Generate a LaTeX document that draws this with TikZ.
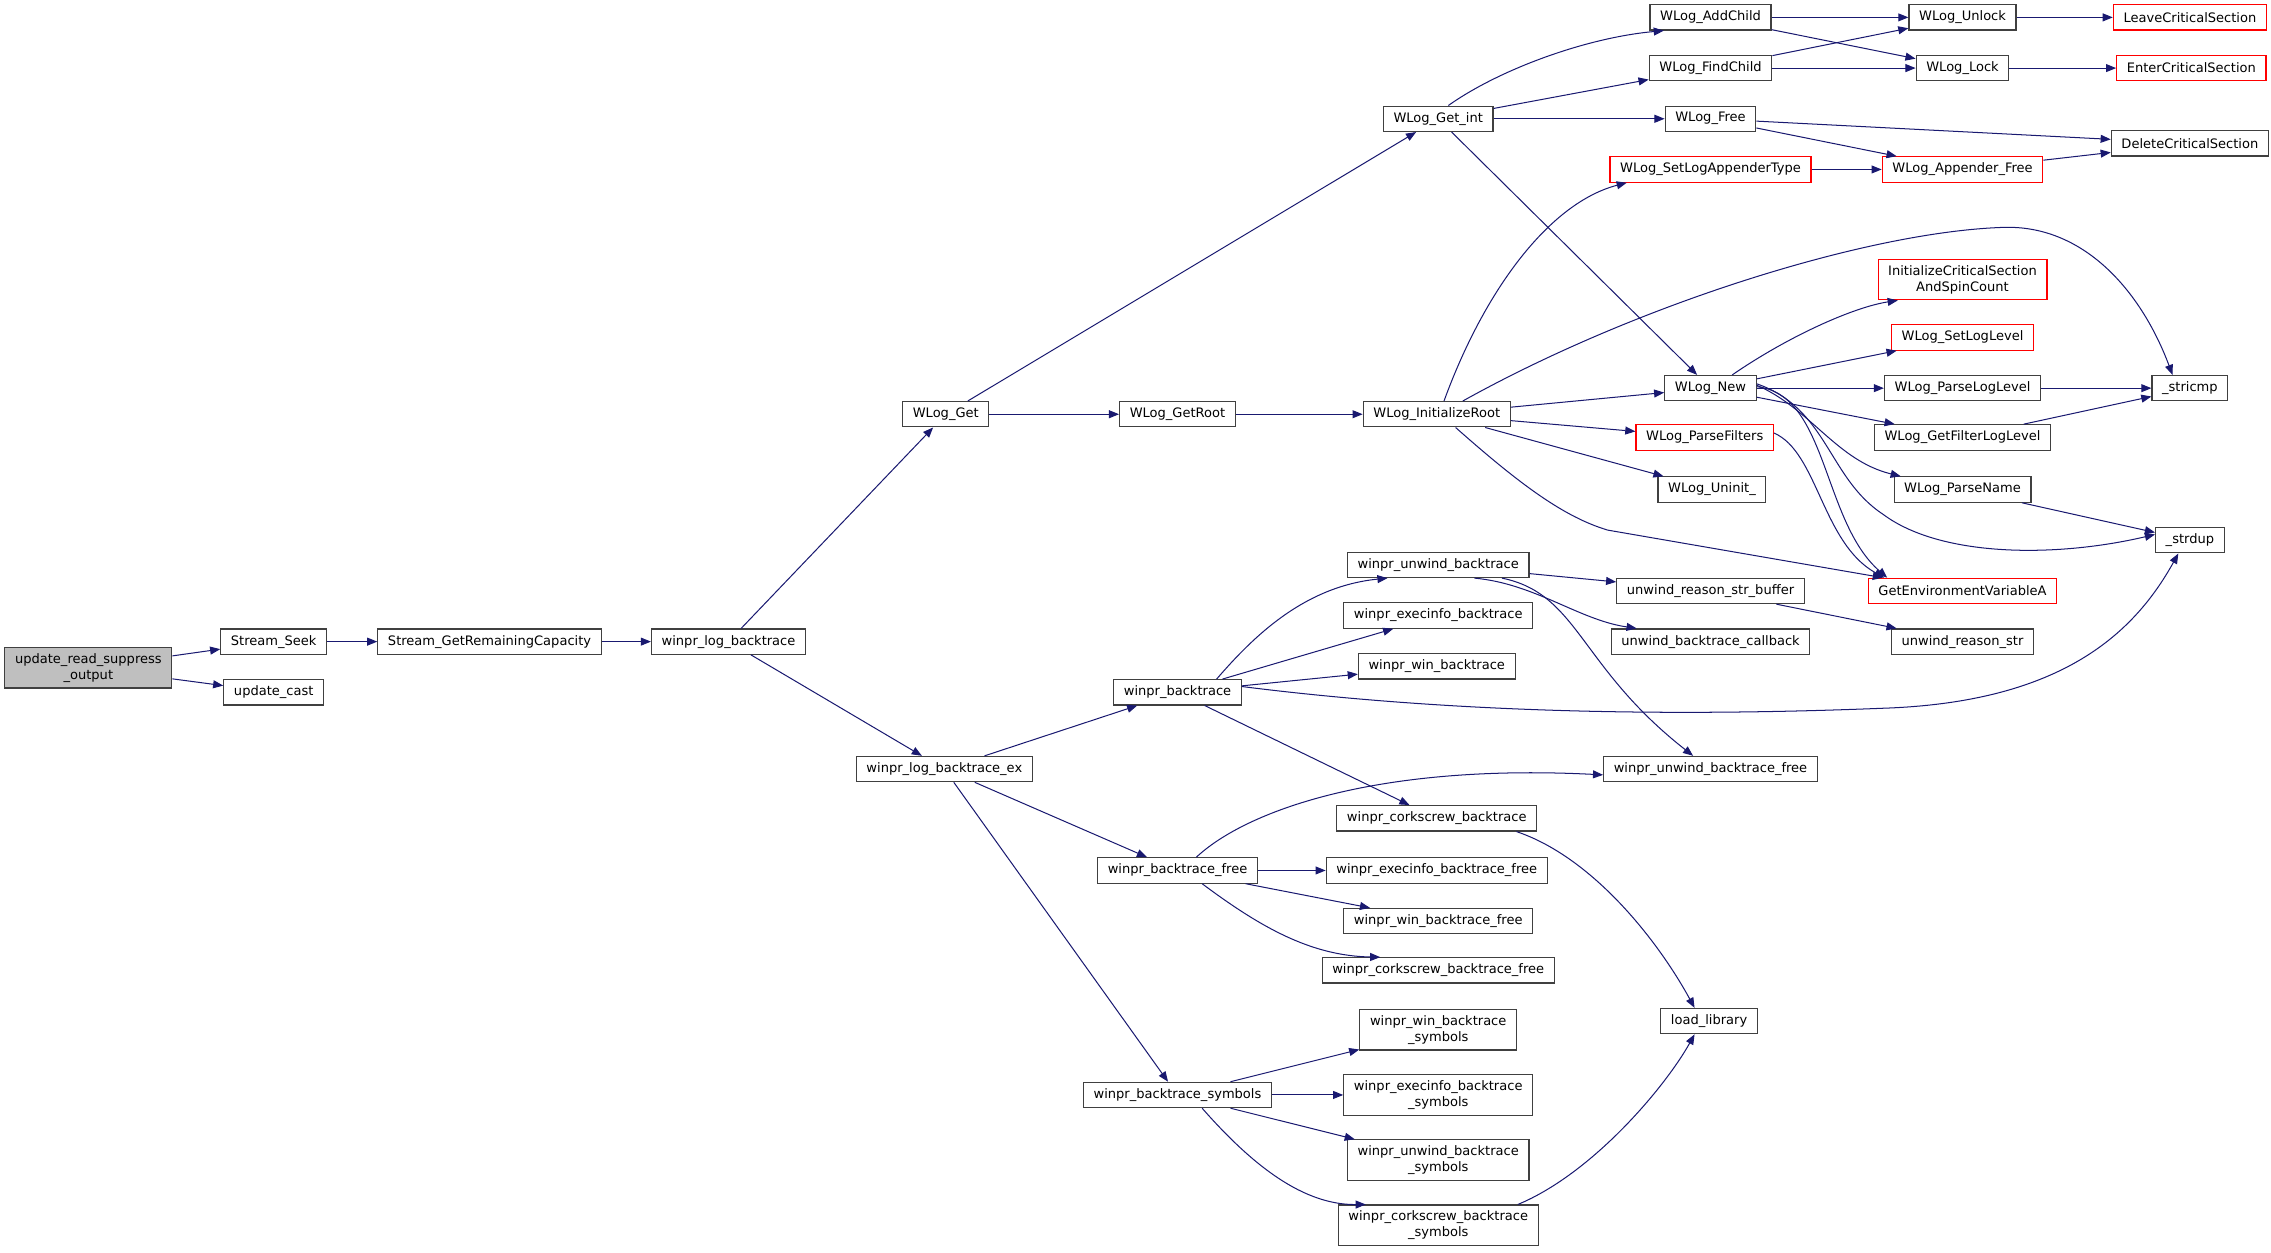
\documentclass[tikz,border=0pt]{standalone}
\usepackage{fontspec}
\setmainfont{DejaVu Sans}
\usetikzlibrary{arrows.meta}

\definecolor{edgeblue}{HTML}{191970}
\definecolor{boxgray}{HTML}{BFBFBF}

\tikzset{
  fn/.style={draw=black!75, line width=0.8pt, fill=white, inner xsep=7pt, inner ysep=4pt,
    minimum height=17.5pt, align=center, font=\fontsize{9}{11}\selectfont},
  fnred/.style={fn, draw=red},
  fnroot/.style={fn, fill=boxgray},
  call/.style={draw=edgeblue, line width=0.7pt, -{Triangle[length=7pt,width=5.5pt]}, fill=none}
}

\begin{document}
\begin{tikzpicture}[x=1pt,y=-1pt]

    \useasboundingbox (0,0) rectangle (1568,865);

    % Left part
    \node[fnroot, minimum height=28pt] (upd) at (61,461) {update\_read\_suppress\\\_output};
    \node[fn] (seek) at (189,443) {Stream\_Seek};
    \node[fn] (cast) at (189,478) {update\_cast};
    \node[fn] (remcap) at (338,443) {Stream\_GetRemainingCapacity};
    \node[fn] (logbt) at (503,443) {winpr\_log\_backtrace};
    \node[fn] (wget) at (653,286) {WLog\_Get};
    \node[fn] (logbtex) at (652,531) {winpr\_log\_backtrace\_ex};
    \node[fn] (getroot) at (813,286) {WLog\_GetRoot};
    \node[fn] (getint) at (993,82) {WLog\_Get\_int};
    \node[fn] (initroot) at (992,286) {WLog\_InitializeRoot};

    % WLog nodes
    \node[fn] (addchild) at (1181,12) {WLog\_AddChild};
    \node[fn] (findchild) at (1181,47) {WLog\_FindChild};
    \node[fn] (wfree) at (1181,82) {WLog\_Free};
    \node[fnred] (setapp) at (1181,117) {WLog\_SetLogAppenderType};
    \node[fn] (unlock) at (1355,12) {WLog\_Unlock};
    \node[fn] (lock) at (1355,47) {WLog\_Lock};
    \node[fnred] (appfree) at (1355,117) {WLog\_Appender\_Free};
    \node[fnred] (leavecs) at (1512,12) {LeaveCriticalSection};
    \node[fnred] (entercs) at (1513,47) {EnterCriticalSection};
    \node[fn] (deletecs) at (1512,99) {DeleteCriticalSection};
    \node[fnred, minimum height=28pt] (initcs) at (1355,193) {InitializeCriticalSection\\AndSpinCount};
    \node[fnred] (setlevel) at (1355,233) {WLog\_SetLogLevel};
    \node[fn] (wnew) at (1181,268) {WLog\_New};
    \node[fn] (parselevel) at (1355,268) {WLog\_ParseLogLevel};
    \node[fn] (getfilter) at (1355,302) {WLog\_GetFilterLogLevel};
    \node[fn] (stricmp) at (1512,268) {\_stricmp};
    \node[fnred] (parsefilters) at (1177,302) {WLog\_ParseFilters};
    \node[fn] (uninit) at (1182,338) {WLog\_Uninit\_};
    \node[fn] (parsename) at (1355,338) {WLog\_ParseName};
    \node[fn] (strdup) at (1512,373) {\_strdup};
    \node[fnred] (getenv) at (1355,408) {GetEnvironmentVariableA};

    % backtrace nodes
    \node[fn] (unwind) at (993,390) {winpr\_unwind\_backtrace};
    \node[fn] (execinfo) at (993,425) {winpr\_execinfo\_backtrace};
    \node[fn] (winbt) at (992,460) {winpr\_win\_backtrace};
    \node[fn] (backtrace) at (813,478) {winpr\_backtrace};
    \node[fn] (reasonbuf) at (1181,408) {unwind\_reason\_str\_buffer};
    \node[fn] (callback) at (1181,443) {unwind\_backtrace\_callback};
    \node[fn] (reasonstr) at (1355,443) {unwind\_reason\_str};
    \node[fn] (unwindfree) at (1181,531) {winpr\_unwind\_backtrace\_free};
    \node[fn] (corkscrew) at (992,565) {winpr\_corkscrew\_backtrace};
    \node[fn] (btfree) at (813,601) {winpr\_backtrace\_free};
    \node[fn] (execfree) at (992,601) {winpr\_execinfo\_backtrace\_free};
    \node[fn] (winfree) at (993,636) {winpr\_win\_backtrace\_free};
    \node[fn] (corkfree) at (993,670) {winpr\_corkscrew\_backtrace\_free};
    \node[fn] (loadlib) at (1180,705) {load\_library};
    \node[fn, minimum height=28pt] (winsym) at (993,711) {winpr\_win\_backtrace\\\_symbols};
    \node[fn] (btsym) at (813,756) {winpr\_backtrace\_symbols};
    \node[fn, minimum height=28pt] (execsym) at (993,756) {winpr\_execinfo\_backtrace\\\_symbols};
    \node[fn, minimum height=28pt] (unwindsym) at (993,801) {winpr\_unwind\_backtrace\\\_symbols};
    \node[fn, minimum height=28pt] (corksym) at (993,846) {winpr\_corkscrew\_backtrace\\\_symbols};

    % Straight calls
    \draw[call] (upd) -- (seek);
    \draw[call] (upd) -- (cast);
    \draw[call] (seek) -- (remcap);
    \draw[call] (remcap) -- (logbt);
    \draw[call] (logbt) -- (wget);
    \draw[call] (logbt) -- (logbtex);
    \draw[call] (wget) -- (getint);
    \draw[call] (wget) -- (getroot);
    \draw[call] (getroot) -- (initroot);
    \draw[call] (getint) -- (findchild);
    \draw[call] (getint) -- (wfree);
    \draw[call] (getint) -- (wnew);
    \draw[call] (addchild) -- (unlock);
    \draw[call] (addchild) -- (lock);
    \draw[call] (findchild) -- (unlock);
    \draw[call] (findchild) -- (lock);
    \draw[call] (unlock) -- (leavecs);
    \draw[call] (lock) -- (entercs);
    \draw[call] (wfree) -- (deletecs);
    \draw[call] (wfree) -- (appfree);
    \draw[call] (setapp) -- (appfree);
    \draw[call] (appfree) -- (deletecs);
    \draw[call] (initroot) -- (wnew);
    \draw[call] (initroot) -- (parsefilters);
    \draw[call] (initroot) -- (uninit);
    \draw[call] (wnew) -- (setlevel);
    \draw[call] (wnew) -- (parselevel);
    \draw[call] (wnew) -- (getfilter);
    \draw[call] (parselevel) -- (stricmp);
    \draw[call] (getfilter) -- (stricmp);
    \draw[call] (parsename) -- (strdup);
    \draw[call] (logbtex) -- (backtrace);
    \draw[call] (logbtex) -- (btfree);
    \draw[call] (logbtex) -- (btsym);
    \draw[call] (backtrace) -- (execinfo);
    \draw[call] (backtrace) -- (winbt);
    \draw[call] (backtrace) -- (corkscrew);
    \draw[call] (unwind) -- (reasonbuf);
    \draw[call] (reasonbuf) -- (reasonstr);
    \draw[call] (btfree) -- (execfree);
    \draw[call] (btfree) -- (winfree);
    \draw[call] (btsym) -- (winsym);
    \draw[call] (btsym) -- (execsym);
    \draw[call] (btsym) -- (unwindsym);

    % Curved calls
    \draw[call] ([xshift=7]getint.north) .. controls (1035,48) and (1095,26) .. ([xshift=10]addchild.south west);
    \draw[call] ([xshift=5]initroot.north) .. controls (1025,200) and (1070,140) .. ([xshift=12]setapp.south west);
    \draw[call] ([xshift=18]initroot.north) .. controls (1130,210) and (1290,160) .. (1383,157)
        .. controls (1438,155) and (1478,200) .. ([xshift=-12]stricmp.north);
    \draw[call] ([xshift=13]initroot.south) .. controls (1050,335) and (1080,357) .. (1110,366)
        -- ([xshift=-55]getenv.north);
    \draw[call] ([xshift=15]wnew.north) .. controls (1235,232) and (1280,212) .. ([xshift=14]initcs.south west);
    \draw[call] ([yshift=2]wnew.east) .. controls (1250,282) and (1268,318) .. ([xshift=5]parsename.north west);
    \draw[call] ([yshift=1]wnew.east) .. controls (1262,272) and (1258,360) .. ([xshift=-52]getenv.north);
    \draw[call] ([yshift=3]wnew.east) .. controls (1262,282) and (1262,330) .. (1300,355)
        .. controls (1340,385) and (1420,385) .. ([yshift=4]strdup.west);
    \draw[call] ([yshift=3]parsefilters.east) .. controls (1255,312) and (1258,375) .. ([xshift=-54]getenv.north);
    \draw[call] ([xshift=27]backtrace.north) .. controls (865,440) and (900,405) .. ([xshift=-35]unwind.south);
    \draw[call] ([yshift=4]backtrace.east) .. controls (1000,492) and (1150,495) .. (1300,489)
        .. controls (1420,485) and (1472,440) .. ([xshift=-8]strdup.south);
    \draw[call] ([xshift=25]unwind.south) .. controls (1060,403) and (1090,428) .. ([xshift=-51]callback.north);
    \draw[call] ([xshift=44]unwind.south) .. controls (1090,410) and (1090,460) .. ([xshift=-12]unwindfree.north);
    \draw[call] ([xshift=55]corkscrew.south) .. controls (1100,592) and (1145,650) .. ([xshift=-10]loadlib.north);
    \draw[call] ([xshift=13]btfree.north) .. controls (860,560) and (950,527) .. ([yshift=-4]unwindfree.west);
    \draw[call] ([xshift=17]btfree.south) .. controls (870,640) and (905,660) .. ([xshift=-40]corkfree.north);
    \draw[call] ([xshift=17]btsym.south) .. controls (865,805) and (900,832) .. ([xshift=-50]corksym.north);
    \draw[call] ([xshift=55]corksym.north) .. controls (1100,810) and (1150,750) .. ([xshift=-10]loadlib.south);

\end{tikzpicture}
\end{document}
